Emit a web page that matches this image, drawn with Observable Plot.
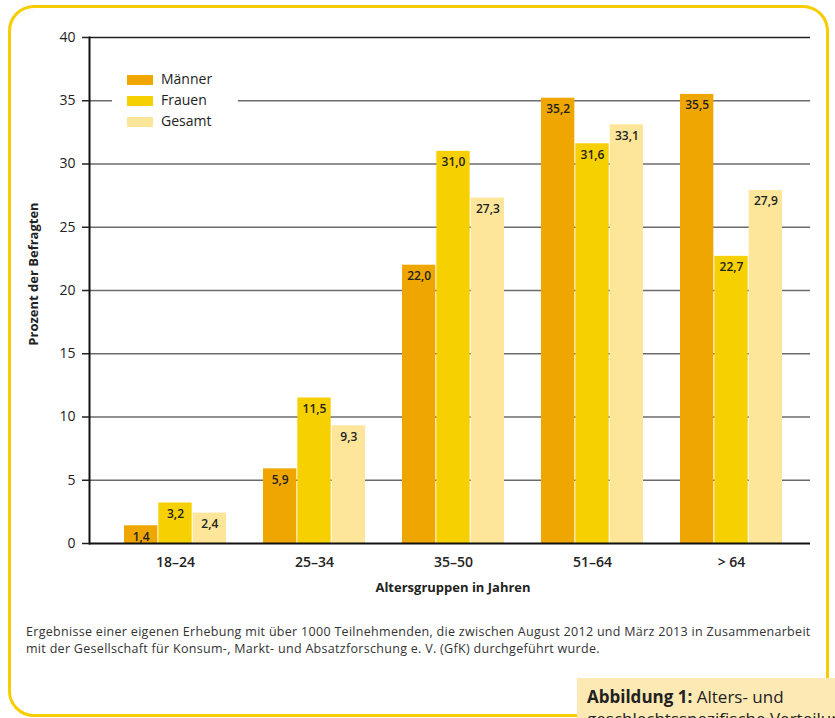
<!DOCTYPE html>
<html><head><meta charset="utf-8">
<script src="https://cdn.jsdelivr.net/npm/d3@7"></script>
<script src="https://cdn.jsdelivr.net/npm/@observablehq/plot@0.6"></script>
<style>
body{margin:0;background:#fff;font-family:"Open Sans",sans-serif;}
#page{position:relative;width:835px;height:718px;overflow:hidden;background:#fff;}
#frame{position:absolute;left:8px;top:5px;width:821px;height:712px;box-sizing:border-box;border:3px solid #f7cd00;border-radius:26px;}
#chart{position:absolute;left:0;top:0;}
#legend{position:absolute;left:112px;top:68px;width:126px;height:66px;background:#fff;}
.item{position:absolute;left:15px;height:14px;font-size:14px;color:#222;}
.sw{position:absolute;left:0;top:0;width:26px;height:10px;}
.lab{position:absolute;left:34px;top:-6px;white-space:nowrap;line-height:20px;}
#xtitle{position:absolute;left:303px;width:300px;top:577px;text-align:center;font-size:13px;font-weight:700;color:#222;line-height:20px;}
#ytitle{position:absolute;left:33px;top:274px;transform:translate(-50%,-50%) rotate(-90deg);font-size:13px;font-weight:700;color:#222;white-space:nowrap;}
#caption{position:absolute;left:26px;top:623px;width:800px;font-size:12.5px;letter-spacing:0.3px;line-height:17px;color:#333;white-space:nowrap;}
#fig{position:absolute;left:577px;top:678px;width:400px;height:60px;background:#fde9b4;box-sizing:border-box;padding:8px 0 0 10px;font-size:17px;line-height:22px;color:#222;white-space:nowrap;}
</style></head>
<body>
<div id="page">
  <div id="frame"></div>
  <div id="chart"></div>
  <div id="legend"></div>
  <div id="ytitle">Prozent der Befragten</div>
  <div id="xtitle">Altersgruppen in Jahren</div>
  <div id="caption">Ergebnisse einer eigenen Erhebung mit über 1000 Teilnehmenden, die zwischen August 2012 und März 2013 in Zusammenarbeit<br>mit der Gesellschaft für Konsum-, Markt- und Absatzforschung e. V. (GfK) durchgeführt wurde.</div>
  <div id="fig"><b>Abbildung 1:</b> Alters- und<br>geschlechtsspezifische Verteilung</div>
</div>
<script>
const groups = ["18–24", "25–34", "35–50", "51–64", "> 64"];
const series = ["Männer", "Frauen", "Gesamt"];
const maenner = [1.4, 5.9, 22.0, 35.2, 35.5];
const frauen = [3.2, 11.5, 31.0, 31.6, 22.7];
const gesamt = [2.4, 9.3, 27.3, 33.1, 27.9];
const colors = ["#efa600", "#f6d000", "#fde59a"];
const yTicks = [0, 5, 10, 15, 20, 25, 30, 35, 40];

const values = {"Männer": maenner, "Frauen": frauen, "Gesamt": gesamt};
const data = groups.flatMap((g, i) => series.map(s => ({group: g, series: s, value: values[s][i]})));

const bw = 103; // band width in px
const marks = [
  Plot.ruleY(yTicks.filter(t => t > 0 && t < 40), {stroke: "#6b6b6b", strokeWidth: 1.5}),
  Plot.ruleY([40], {stroke: "#222", strokeWidth: 1.5}),
];
series.forEach((s, k) => {
  const sub = data.filter(d => d.series === s);
  marks.push(Plot.barY(sub, {x: "group", y: "value", fill: "series",
    insetLeft: k * bw / 3, insetRight: (2 - k) * bw / 3}));
});
series.forEach((s, k) => {
  const sub = data.filter(d => d.series === s);
  marks.push(Plot.text(sub, {x: "group", y: "value",
    text: d => d.value.toFixed(1).replace(".", ","),
    dx: (k - 1) * bw / 3, dy: 11, fontSize: 12, fontWeight: 600, fill: "#222"}));
});
marks.push(
  Plot.ruleY([0], {stroke: "#111", strokeWidth: 2}),
  Plot.frame({anchor: "left", stroke: "#111", strokeWidth: 2}),
  Plot.axisY({ticks: yTicks, tickSize: 7, tickPadding: 7, fontSize: 14, label: null, strokeWidth: 1.5}),
  Plot.axisX({tickSize: 0, tickPadding: 14, fontSize: 14, fontWeight: 600, label: null})
);

const chart = Plot.plot({
  width: 835,
  height: 600,
  marginLeft: 89,
  marginRight: 25,
  marginTop: 37,
  marginBottom: 57,
  style: {fontFamily: "Open Sans, sans-serif", color: "#222", background: "transparent"},
  x: {domain: groups, paddingInner: 0.264, paddingOuter: 0, insetLeft: 33, insetRight: 25},
  y: {domain: [0, 40]},
  color: {domain: series, range: colors},
  marks
});
document.getElementById("chart").appendChild(chart);

const legend = document.getElementById("legend");
series.forEach((s, k) => {
  const it = document.createElement("div");
  it.className = "item";
  it.style.top = (7 + k * 21) + "px";
  it.innerHTML = `<div class="sw" style="background:${colors[k]}"></div><div class="lab">${s}</div>`;
  legend.appendChild(it);
});
</script>
</body></html>
